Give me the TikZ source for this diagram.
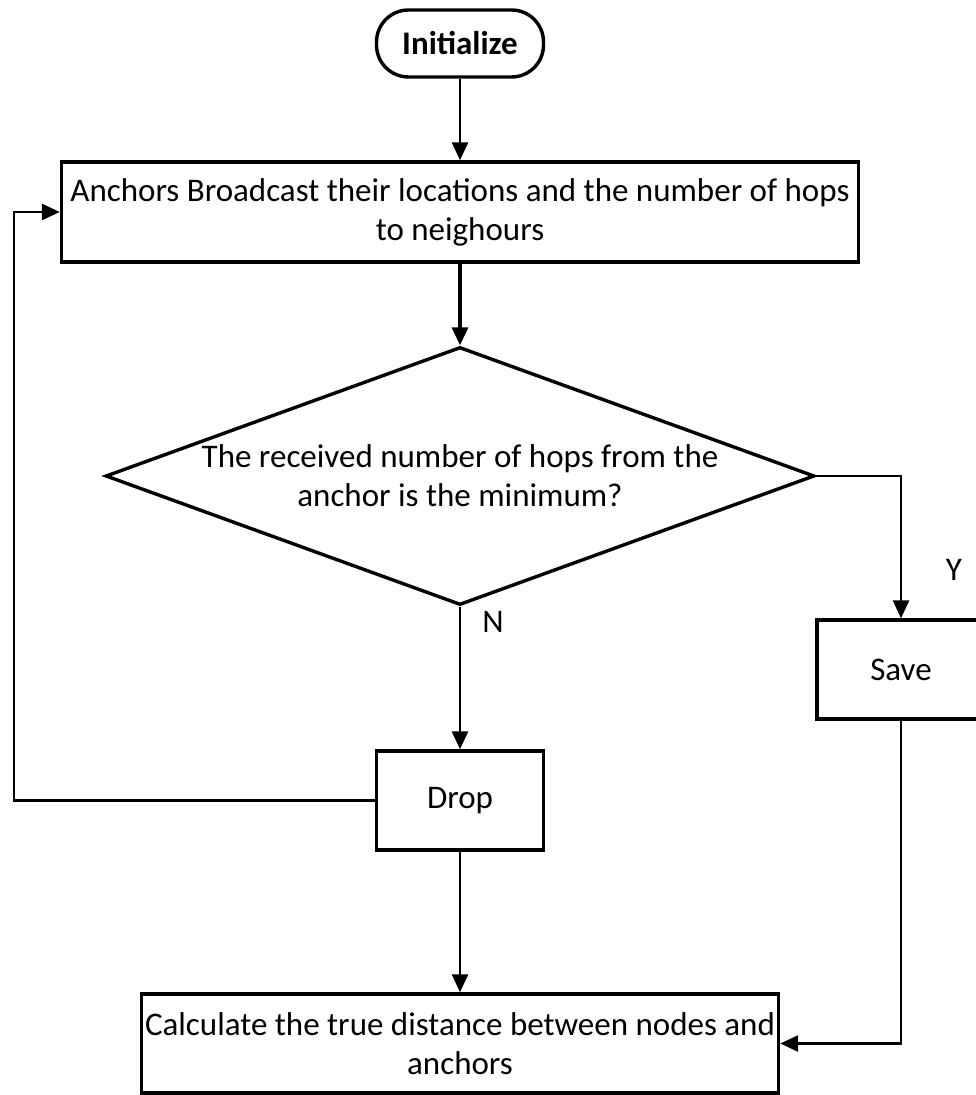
\documentclass[tikz,border=0pt]{standalone}
\usepackage{fontspec}
\setmainfont{Carlito}
\usetikzlibrary{arrows.meta,shapes.geometric}

\begin{document}
\begin{tikzpicture}[x=0.5pt,y=-0.5pt]

      \tikzset{boxed/.style={draw, rectangle, line width=1.7pt, inner sep=0pt, align=center, font=\fontsize{16.5}{19.5}\selectfont},
               flow/.style={-{Triangle[width=8pt,length=9pt]}, line width=1.4pt},
               tag/.style={inner sep=0pt, font=\fontsize{16.5}{19.5}\selectfont}}
      \useasboundingbox (0,0) rectangle (975,1095);
%% Vertices
      	\node[boxed, rounded corners=16pt, minimum width=83.5pt, minimum height=33.5pt, font=\fontsize{16.5}{19.5}\selectfont\bfseries] (init) at (460,43.5) {Initialize};
      	\node[boxed, minimum width=398.5pt, minimum height=50pt] (bcast) at (460,212) {Anchors Broadcast their locations and the number of hops\\ to neighours};
      	\node[boxed, diamond, aspect=2.75, minimum width=354.5pt, minimum height=129pt] (check) at (460,476) {The received number of hops from the\\ anchor is the minimum?};
      	\node[boxed, minimum width=84pt, minimum height=49.5pt] (save) at (901,669.5) {Save};
      	\node[boxed, minimum width=83.5pt, minimum height=49.5pt] (drop) at (460,800.5) {Drop};
      	\node[boxed, minimum width=318.5pt, minimum height=49.5pt] (calc) at (460,1043.5) {Calculate the true distance between nodes and\\ anchors};
      	\node[tag] (ylab) at (954,570) {Y};
      	\node[tag] (nlab) at (493,622) {N};
      	\coordinate (loop) at (14,800.5);

%Edges
		\draw[flow] (init) -- (bcast);
		\draw[flow, line width=1.7pt] (bcast) -- (check);
		\draw[flow] (check.east) -| (save.north);
		\draw[flow] (check.south) -- (drop.north);
		\draw[flow] (drop.west) -- (loop) |- (bcast.west);
		\draw[flow] (drop) -- (calc);
		\draw[flow] (save.south) |- (calc.east);
	\end{tikzpicture}
\end{document}
